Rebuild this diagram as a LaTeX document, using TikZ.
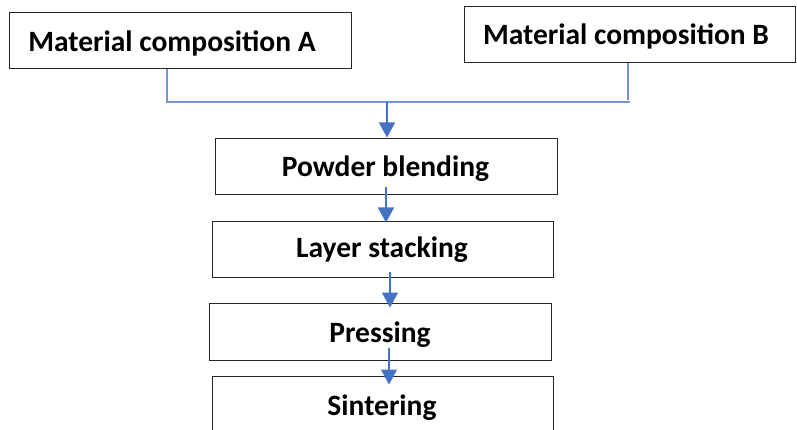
\documentclass[tikz,border=0pt]{standalone}
\usepackage{fontspec}
\setmainfont{Carlito}
\usetikzlibrary{arrows.meta}
\definecolor{arrowblue}{HTML}{4472C4}
\definecolor{lineblue}{HTML}{7096D6}
\begin{document}
\begin{tikzpicture}[x=1pt,y=-1pt,
  box/.style={draw=black!85, line width=1pt, minimum width=#1, minimum height=56pt, inner sep=0pt, fill=white},
  lbl/.style={font=\fontsize{29.5}{31}\selectfont\bfseries, inner sep=0pt, anchor=base},
  flow/.style={draw=arrowblue, line width=1.3pt, -{Triangle[width=16pt,length=15pt]}},
  feed/.style={draw=lineblue, line width=1.3pt}]
\useasboundingbox (0,0) rectangle (797,430);
% boxes
\node[box=342pt] (A) at (180,41) {};
\node[box=331pt] (B) at (629.5,35) {};
\node[box=342pt] (P) at (386,167) {};
\node[box=341pt, minimum height=55pt] (L) at (382.5,249.5) {};
\node[box=342pt, minimum height=57pt] (R) at (380,331.5) {};
\node[box=341pt] (S) at (382.5,404) {};
% labels
\node[lbl] (At) at (172,52) {Material composition A};
\node[lbl] (Bt) at (626,45) {Material composition B};
\node[lbl] (Pt) at (385.5,177) {Powder blending};
\node[lbl] (Lt) at (382,258) {Layer stacking};
\node[lbl] (Rt) at (380,342) {Pressing};
\node[lbl] (St) at (382,415) {Sintering};
% junction
\coordinate (ja) at (167,102);
\coordinate (jb) at (630,102);
\coordinate (jm) at (387,102);
\draw[feed] (A.south -| ja) -- (ja) -- (jb);
\draw[feed] ([xshift=-2pt]B.south -| jb) -- ([xshift=-2pt,yshift=2pt]jb);
\draw[flow] (jm) -- ([yshift=1pt]P.north -| jm);
% flow arrows
\coordinate (p1) at (386,187);
\coordinate (l1) at (390,272);
\coordinate (r1) at (389,348);
\draw[flow] (p1) -- ([yshift=-1pt]L.north -| p1);
\draw[flow] (l1) -- ([yshift=-5pt]R.north -| l1);
\draw[flow] (r1) -- ([yshift=-9pt]S.north -| r1);
\end{tikzpicture}
\end{document}
